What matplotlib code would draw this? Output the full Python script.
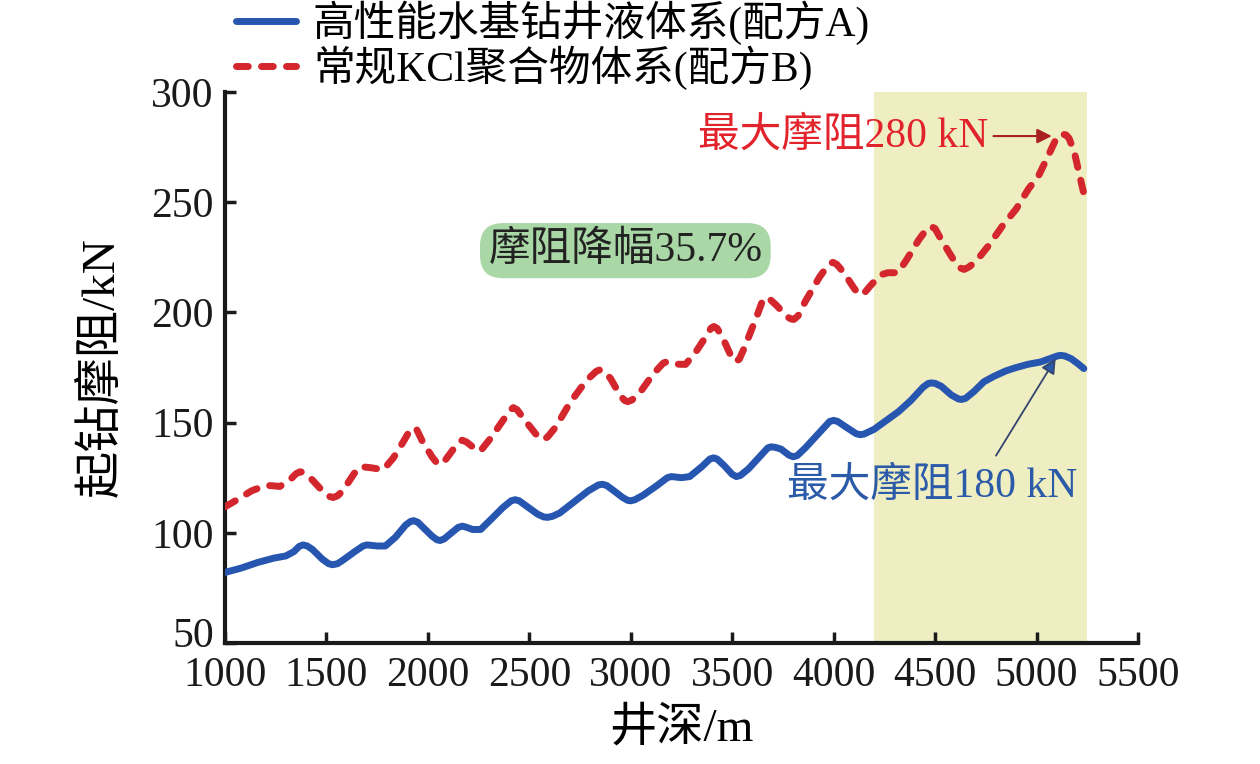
import matplotlib
matplotlib.use("Agg")
import matplotlib.pyplot as plt
from matplotlib.transforms import ScaledTranslation

plt.rcParams['font.family'] = ['Liberation Serif', 'Noto Sans CJK SC', 'DejaVu Sans']

# depth (m) and pull-out drag (kN)
depth_a = [1000, 1080, 1160, 1240, 1300, 1340, 1365, 1385, 1405, 1430, 1480, 1510, 1530,
           1555, 1580, 1640, 1680, 1700, 1750, 1790, 1840, 1890, 1915, 1930, 1950, 1970,
           2020, 2045, 2060, 2080, 2110, 2150, 2170, 2190, 2220, 2260, 2310, 2370, 2410,
           2430, 2450, 2480, 2540, 2570, 2590, 2615, 2650, 2720, 2790, 2840, 2860, 2880,
           2910, 2960, 2985, 3000, 3020, 3060, 3130, 3180, 3200, 3250, 3290, 3350, 3390,
           3408, 3425, 3460, 3500, 3520, 3540, 3580, 3640, 3675, 3690, 3710, 3740, 3780,
           3800, 3820, 3860, 3930, 3980, 4000, 4020, 4060, 4110, 4130, 4150, 4200, 4260,
           4320, 4380, 4440, 4465, 4480, 4500, 4530, 4580, 4615, 4630, 4650, 4690, 4740,
           4790, 4850, 4900, 4960, 5020, 5080, 5105, 5120, 5140, 5170, 5200, 5233]
drag_a = [82, 84, 86.5, 88.5, 89.5, 91.5, 93.8, 94.5, 94, 92.5, 88, 86, 85.5,
          86, 87.5, 91.5, 94, 94.5, 94, 94, 98, 103.5, 105.2, 105.5, 104.8, 103,
          98.5, 96.8, 96.5, 97.2, 99.5, 102.5, 103, 102.5, 101.5, 101.5, 106, 111.5, 114.5,
          115, 114.5, 112.5, 108.5, 107.2, 107, 107.5, 109, 114, 119, 121.7, 122, 121.5,
          119.5, 116, 114.7, 114.5, 115, 117, 121.5, 125, 125.5, 125, 125.5, 130, 133.5,
          134, 133.5, 130.5, 126.5, 125.5, 126, 129, 135, 138.5, 139, 138.8, 138, 135.2,
          134.5, 135, 138.5, 145.5, 150.5, 151, 150.5, 148, 145, 144.5, 144.8, 147, 151,
          155, 160, 166, 167.7, 168, 167.8, 166.5, 162.5, 160.7, 160.5, 161, 164, 168.5,
          171, 173.5, 175, 176.5, 177.5, 179.5, 180.3, 180.5, 180.2, 179, 177, 174.5]

depth_b = [1000, 1060, 1130, 1200, 1240, 1270, 1320, 1350, 1370, 1390, 1420, 1480, 1510,
           1533, 1555, 1580, 1630, 1655, 1670, 1720, 1780, 1830, 1880, 1910, 1928, 1945,
           1970, 2020, 2045, 2061, 2080, 2110, 2150, 2169, 2190, 2220, 2258, 2310, 2370,
           2405, 2421, 2440, 2470, 2530, 2555, 2569, 2590, 2630, 2700, 2780, 2830, 2850,
           2870, 2900, 2950, 2970, 2985, 3005, 3040, 3110, 3160, 3181, 3230, 3270, 3320,
           3370, 3395, 3409, 3425, 3450, 3490, 3505, 3517, 3535, 3560, 3620, 3650, 3665,
           3685, 3720, 3770, 3790, 3804, 3825, 3860, 3930, 3975, 3996, 4015, 4050, 4100,
           4120, 4134, 4150, 4180, 4230, 4268, 4317, 4360, 4420, 4460, 4480, 4500, 4530,
           4590, 4620, 4643, 4665, 4700, 4761, 4830, 4900, 4960, 5010, 5057, 5095, 5121,
           5145, 5160, 5186, 5215, 5245]
drag_b = [111.8, 115, 119, 121.5, 121.3, 121, 124, 126.8, 127.7, 127.3, 125, 119, 116.6,
          116, 116.8, 119, 126, 129.3, 130, 129.5, 128.6, 134, 141.5, 146.3, 147.7, 146.8,
          142, 134.5, 131.6, 131, 132.3, 136, 141, 142, 141.2, 139, 137, 143, 151,
          155.6, 156.8, 155.8, 152, 145, 142.7, 142.3, 143.5, 148, 159, 169, 173.3, 174,
          173.3, 170, 162, 160, 159.5, 160.2, 163, 172, 177, 177.7, 176.5, 176.4, 182,
          189, 192.8, 193.6, 192.8, 189, 181, 178.4, 177.7, 178.8, 184, 198, 205.5, 206.8,
          206, 203, 198, 197, 196.8, 198.5, 205, 216, 221.8, 222.7, 221.8, 218, 211,
          208.6, 208, 208.7, 212, 217, 218, 218, 224, 233, 238, 239, 238, 233,
          224, 220.3, 219.5, 220.5, 223, 230, 239, 247, 256, 262, 271, 278.5, 281,
          280.5, 279, 272.7, 261, 249]

label_a = '高性能水基钻井液体系(配方A)'
label_b = '常规KCl聚合物体系(配方B)'
zone = (4200, 5250)

fig = plt.figure(figsize=(12.6, 7.64), dpi=100)
ax = fig.add_axes([0.1786, 0.1584, 0.7246, 0.7212])

ax.axvspan(zone[0], zone[1], ymin=0, ymax=1, color='#eeeec2', zorder=0, lw=0)

la, = ax.plot(depth_a, drag_a, color='#2756b0', lw=5, solid_capstyle='round',
              solid_joinstyle='round', label=label_a, zorder=3)
lb, = ax.plot(depth_b, drag_b, color='#d3262d', lw=5, dashes=(1.7, 1.9),
              dash_capstyle='round', dash_joinstyle='round', label=label_b, zorder=3)

ax.set_xlim(1000, 5500)
ax.set_ylim(50, 300)
ax.set_xticks(range(1000, 5501, 500))
ax.set_yticks(range(50, 301, 50))
for s in ['top', 'right']:
    ax.spines[s].set_visible(False)
for s in ['left', 'bottom']:
    ax.spines[s].set_linewidth(3)
    ax.spines[s].set_color('#1a1a1a')
ax.tick_params(direction='in', length=8, width=2.5, labelsize=30, colors='#1a1a1a')
ax.tick_params(axis='x', pad=10)
ax.tick_params(axis='y', pad=8)
ax.set_xlabel('井深/m', fontsize=34, labelpad=8)
ax.set_ylabel('起钻摩阻/kN', fontsize=34, labelpad=20)

# lift the "50" label a little so it clears "1000"
fig.canvas.draw()
ylab0 = ax.get_yticklabels()[0]
ylab0.set_transform(ylab0.get_transform() + ScaledTranslation(0, 8 / 72, fig.dpi_scale_trans))

ax.text(2973, 228, '摩阻降幅35.7%', fontsize=30, color='#222222', ha='center', va='center',
        bbox=dict(boxstyle='round,pad=0.2,rounding_size=0.55', fc='#a9d7a6', ec='none'),
        zorder=4)

ax.annotate('最大摩阻280 kN', xy=(5075, 280), xytext=(4760, 280), fontsize=30,
            color='#e3232b', ha='right', va='center',
            arrowprops=dict(arrowstyle='-|>', color='#a82020', lw=1.5,
                            mutation_scale=22, shrinkA=2, shrinkB=0), zorder=5)

ax.text(4483, 121, '最大摩阻180 kN', fontsize=30, color='#2a5aa8', ha='center',
        va='center', zorder=5)
ax.annotate('', xy=(5094, 179), xytext=(4800, 135),
            arrowprops=dict(arrowstyle='-|>', color='#33456e', lw=1.3,
                            mutation_scale=22, shrinkA=0, shrinkB=0,
                            fc='#2a5aa8'), zorder=5)

fig.legend(handles=[la, lb], loc='upper left', bbox_to_anchor=(0.174, 1.021),
           frameon=False, fontsize=30, handlelength=1.45, handletextpad=0.4,
           labelspacing=0.0, borderaxespad=0)

fig.savefig('out.png', dpi=100)
